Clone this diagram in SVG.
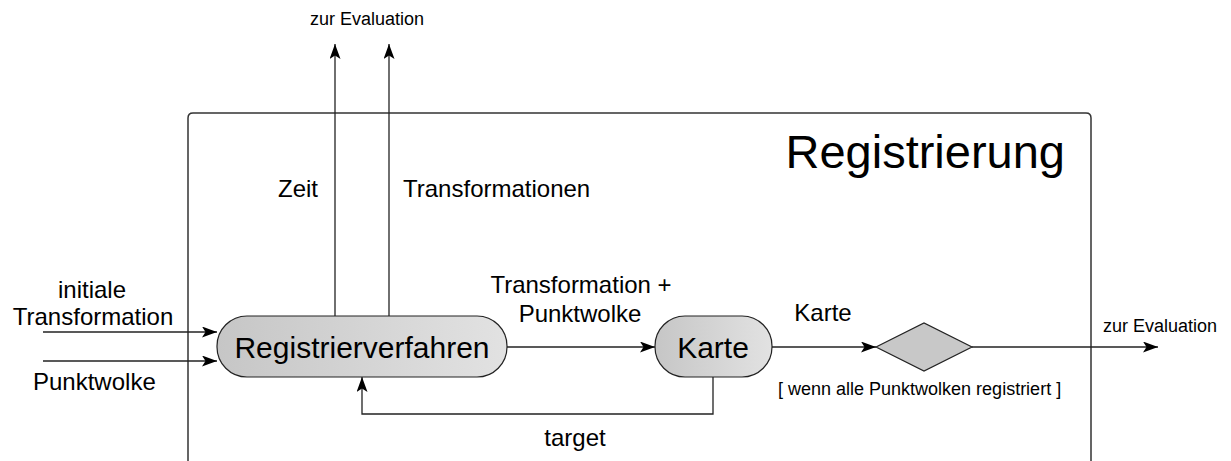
<svg xmlns="http://www.w3.org/2000/svg" width="1231" height="461" viewBox="0 0 1231 461">
<style>
text{font-family:"Liberation Sans",Arial,sans-serif;fill:#000}
.lbl{font-size:24px}
.sm{font-size:18px}
.node{stroke:#222;stroke-width:1.2}
.conn{stroke:#222;stroke-width:1.3;fill:none}
</style>
<defs>
<linearGradient id="g" x1="0" y1="0" x2="1" y2="0">
<stop offset="0" stop-color="#c6c6c6"/>
<stop offset="1" stop-color="#e2e2e2"/>
</linearGradient>
<marker id="a" viewBox="0 0 15 11" refX="15" refY="5.5" markerWidth="15" markerHeight="11" markerUnits="userSpaceOnUse" orient="auto">
<path d="M0,0 L15,5.5 L0,11 L3.5,5.5 Z" fill="#000"/>
</marker>
</defs>
<g id="frame">
<path d="M188,461 V118 Q188,113 193,113 H1086 Q1091,113 1091,118 V461" fill="none" stroke="#333" stroke-width="1.5"/>
<text x="1065" y="168" font-size="47" text-anchor="end">Registrierung</text>
</g>
<g id="connectors">
<path class="conn" d="M43,332 H217" marker-end="url(#a)"/>
<path class="conn" d="M43,361 H217" marker-end="url(#a)"/>
<path class="conn" d="M335,316 V44" marker-end="url(#a)"/>
<path class="conn" d="M389,316 V44" marker-end="url(#a)"/>
<path class="conn" d="M507,347 H655" marker-end="url(#a)"/>
<path class="conn" d="M772,347 H876" marker-end="url(#a)"/>
<path class="conn" d="M972,347 H1158" marker-end="url(#a)"/>
<path class="conn" d="M713,377 V414 H362 V377" marker-end="url(#a)"/>
</g>
<g id="labels">
<text class="sm" x="367" y="25" text-anchor="middle">zur Evaluation</text>
<text class="lbl" x="92" y="298" text-anchor="middle">initiale</text>
<text class="lbl" x="93" y="325" text-anchor="middle">Transformation</text>
<text class="lbl" x="33" y="390">Punktwolke</text>
<text class="lbl" x="298" y="197" text-anchor="middle">Zeit</text>
<text class="lbl" x="403" y="197">Transformationen</text>
<text class="lbl" x="581" y="293" text-anchor="middle">Transformation +</text>
<text class="lbl" x="580" y="322" text-anchor="middle">Punktwolke</text>
<text class="lbl" x="823" y="321" text-anchor="middle">Karte</text>
<text class="sm" x="1160" y="332" text-anchor="middle">zur Evaluation</text>
<text class="sm" x="778" y="395">[ wenn alle Punktwolken registriert ]</text>
<text class="lbl" x="575" y="446" text-anchor="middle">target</text>
</g>
<g id="registrierverfahren">
<rect class="node" x="217" y="316" width="290" height="61" rx="30" fill="url(#g)"/>
<text x="362" y="358" font-size="30" text-anchor="middle">Registrierverfahren</text>
</g>
<g id="karte">
<rect class="node" x="655" y="316" width="117" height="61" rx="30" fill="url(#g)"/>
<text x="713" y="358" font-size="30" text-anchor="middle">Karte</text>
</g>
<g id="entscheidung">
<polygon class="node" points="876,347 924,323 972,347 924,371" fill="#c8c8c8"/>
</g>
</svg>
